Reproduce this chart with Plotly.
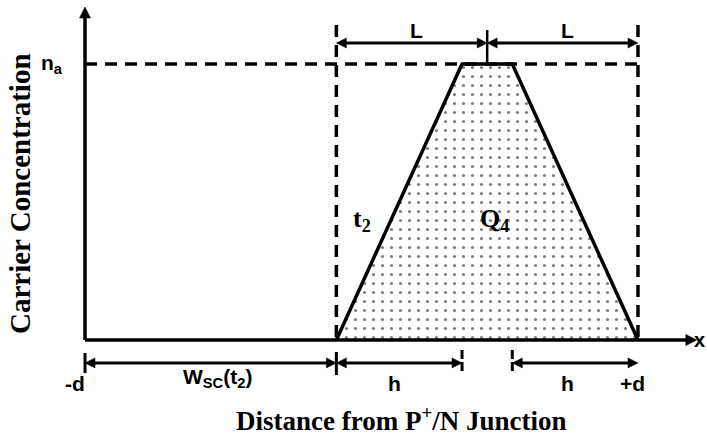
import plotly.graph_objects as go

# Device geometry (arbitrary length units, concentration normalised to n_a)
d = 5.5          # half thickness of the N region: x runs from -d to +d
w_sc = 5.0       # space-charge width W_sc(t2)
L = 3.0          # half width of the stored-charge region
h = 2.5          # width of each sloping flank
n_a = 1.0        # peak carrier concentration

# Stored carrier profile Q4 at time t2
profile_x = [-d + w_sc, -d + w_sc + h, -d + w_sc + 2 * L - h, d]
profile_y = [0.0, n_a, n_a, 0.0]

# Label texts
x_title = "Distance from P<sup>+</sup>/N Junction"
y_title = "Carrier Concentration"

x_edge = -d + w_sc
x_mid = x_edge + L
x_top_l = profile_x[1]
x_top_r = profile_x[2]

x_axis_end = 6.67
y_axis_end = 1.2065
y_dim_top = 1.076
y_dim_bot = -0.083

W, H = 707, 434
X_RANGE = [-7.191, 6.873]
Y_RANGE = [-0.3406, 1.2319]
# data units per screen pixel, used to size arrowheads in pixels
UX = (X_RANGE[1] - X_RANGE[0]) / W
UY = (Y_RANGE[1] - Y_RANGE[0]) / H

SERIF = "Liberation Serif"
SANS = "Liberation Sans"
BLACK = "#000000"

fig = go.Figure()

# Shaded charge profile
fig.add_trace(go.Scatter(
    x=profile_x, y=profile_y, mode="lines", fill="toself",
    line=dict(color=BLACK, width=3.5),
    fillcolor="white",
    fillpattern=dict(shape=".", fgcolor=BLACK, bgcolor="white",
                     size=9, solidity=0.1),
    hoverinfo="skip", showlegend=False,
))

shapes = []


def seg(x0, y0, x1, y1, width=3.5, dash="solid"):
    shapes.append(dict(type="line", xref="x", yref="y",
                       x0=x0, y0=y0, x1=x1, y1=y1,
                       line=dict(color=BLACK, width=width, dash=dash)))


def head(x, y, ux, uy, length, half):
    """Filled triangular arrowhead with its tip at (x, y) pointing along (ux, uy)."""
    bx, by = x - ux * length * UX, y - uy * length * UY
    px, py = -uy, ux
    p1 = (bx + px * half * UX, by + py * half * UY)
    p2 = (bx - px * half * UX, by - py * half * UY)
    path = "M {} {} L {} {} L {} {} Z".format(x, y, p1[0], p1[1], p2[0], p2[1])
    shapes.append(dict(type="path", xref="x", yref="y", path=path,
                       fillcolor=BLACK, line=dict(color=BLACK, width=0.5)))


def arrow(x0, y0, x1, y1, both=True, width=3, length=10, half=5):
    """Straight arrow from (x0, y0) to (x1, y1), optionally double headed."""
    if y0 == y1:
        ux, uy = (1, 0) if x1 > x0 else (-1, 0)
    else:
        ux, uy = (0, 1) if y1 > y0 else (0, -1)
    sx = ux * length * 0.5 * UX
    sy = uy * length * 0.5 * UY
    seg(x0 + (sx if both else 0), y0 + (sy if both else 0),
        x1 - sx, y1 - sy, width=width)
    head(x1, y1, ux, uy, length, half)
    if both:
        head(x0, y0, -ux, -uy, length, half)


DASH = "12px,8px"
# n_a reference level
seg(-d, n_a, profile_x[3], n_a, dash=DASH)
# boundaries of the stored-charge region
seg(x_edge, 1.141, x_edge, 0, dash=DASH)
seg(d, 1.141, d, 0, dash=DASH)
# centre marker above the plateau
seg(x_mid, 1.123, x_mid, 1.007, width=2.5)
# extension ticks for the bottom dimensions
seg(-d, -0.047, -d, -0.12, width=3)
seg(x_edge, -0.0435, x_edge, -0.127, width=3)
seg(x_top_l, -0.036, x_top_l, -0.12, width=3, dash="9px,3px")
seg(x_top_r, -0.036, x_top_r, -0.12, width=3, dash="9px,3px")

# coordinate axes
arrow(-d, 0, -d, y_axis_end, both=False, width=3.5, length=11, half=5.5)
arrow(-d, 0, x_axis_end, 0, both=False, width=3.5, length=11, half=5.5)
# dimension arrows
arrow(x_edge, y_dim_top, x_mid, y_dim_top)
arrow(x_mid, y_dim_top, d, y_dim_top)
arrow(-d, y_dim_bot, x_edge, y_dim_bot)
arrow(x_edge, y_dim_bot, x_top_l, y_dim_bot)
arrow(x_top_r, y_dim_bot, d, y_dim_bot)

annotations = []


def label(x, y, text, family=SANS, size=21, **kw):
    annotations.append(dict(x=x, y=y, xref="x", yref="y", text=text,
                            showarrow=False,
                            font=dict(family=family, size=size, color=BLACK),
                            **kw))


B = lambda s: "<b>" + s + "</b>"

label(-6.157, n_a, B("n<sub>a</sub>"))
label(1.1, 1.123, B("L"))
label(4.1, 1.123, B("L"))
label(-2.874, -0.1377, B("W<sub>SC</sub>(t<sub>2</sub>)"))
label(-5.70, -0.159, B("-d"))
label(0.666, -0.156, B("h"))
label(4.088, -0.156, B("h"))
label(5.381, -0.156, B("+d"))
label(6.868, 0.0, B("x"), xanchor="right", size=20)
label(0.010, 0.435, B("t<sub>2</sub>"), family=SERIF, size=26)
label(2.636, 0.435, B("Q<sub>4</sub>"), family=SERIF, size=26)
label(0.786, -0.287, B(x_title), family=SERIF, size=27)
label(-6.793, 0.529, B(y_title), family=SERIF, size=29, textangle=-90)

fig.update_layout(
    width=W, height=H,
    margin=dict(l=0, r=0, t=0, b=0),
    paper_bgcolor="white", plot_bgcolor="white",
    xaxis=dict(range=X_RANGE, visible=False, fixedrange=True),
    yaxis=dict(range=Y_RANGE, visible=False, fixedrange=True),
    shapes=shapes, annotations=annotations,
    showlegend=False,
)

fig.write_html("out.html")
